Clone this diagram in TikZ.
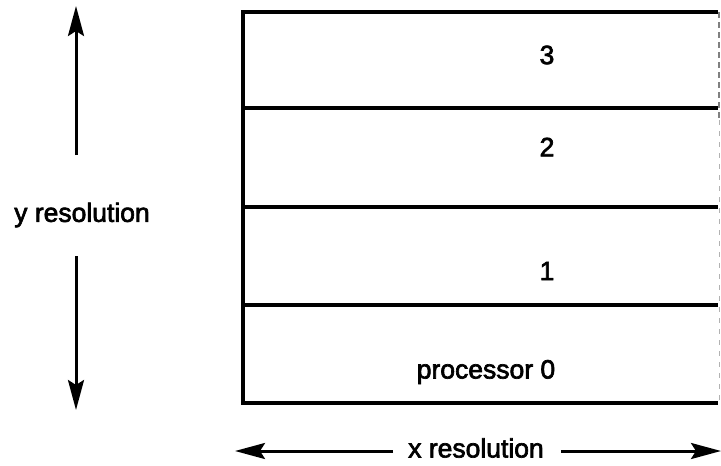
\documentclass[tikz,border=0pt]{standalone}
\usepackage{fontspec}
\setmainfont{Liberation Sans}[FakeBold=2.5]
\usetikzlibrary{arrows.meta}
\begin{document}
\begin{tikzpicture}[x=1pt,y=-1pt,
  lbl/.style={font=\fontsize{26.5}{30}\selectfont, inner sep=0pt},
  edge/.style={line width=3.2pt},
  arr/.style={line width=3pt, -{Stealth[length=30pt,width=16pt,inset=5pt]}}]
\useasboundingbox (0,0) rectangle (721,466);
% box
\draw[edge] (718,12) -- (243,12) -- (243,403) -- (718,403);
\draw[edge] (243,108) -- (718,108);
\draw[edge] (243,207) -- (718,207);
\draw[edge] (243,305) -- (718,305);
\draw[gray, line width=1.2pt, dash pattern=on 6pt off 4pt] (719,12) -- (719,120);
\draw[gray!60, line width=1pt, dash pattern=on 5pt off 6pt] (719,120) -- (719,403);
% row labels
\node[lbl] (r3) at (547,55) {3};
\node[lbl] (r2) at (547,147) {2};
\node[lbl] (r1) at (547,271) {1};
\node[lbl] (r0) at (486,372) {processor 0};
% y resolution
\node[lbl] (yres) at (82,215) {y resolution};
\coordinate (ytop) at (76,6);
\coordinate (ybot) at (76,410);
\coordinate (yu) at (76,155);
\coordinate (yl) at (76,256);
\draw[arr] (yu) -- (ytop);
\draw[arr] (yl) -- (ybot);
% x resolution
\node[lbl] (xres) at (476,448) {x resolution};
\coordinate (xl) at (235,451);
\coordinate (xr) at (721,451);
\draw[arr] (xres.west) ++(-15,3) coordinate (xa) (xa) -- (xl);
\draw[arr] (xres.east) ++(17,3) coordinate (xb) (xb) -- (xr);
\end{tikzpicture}
\end{document}
